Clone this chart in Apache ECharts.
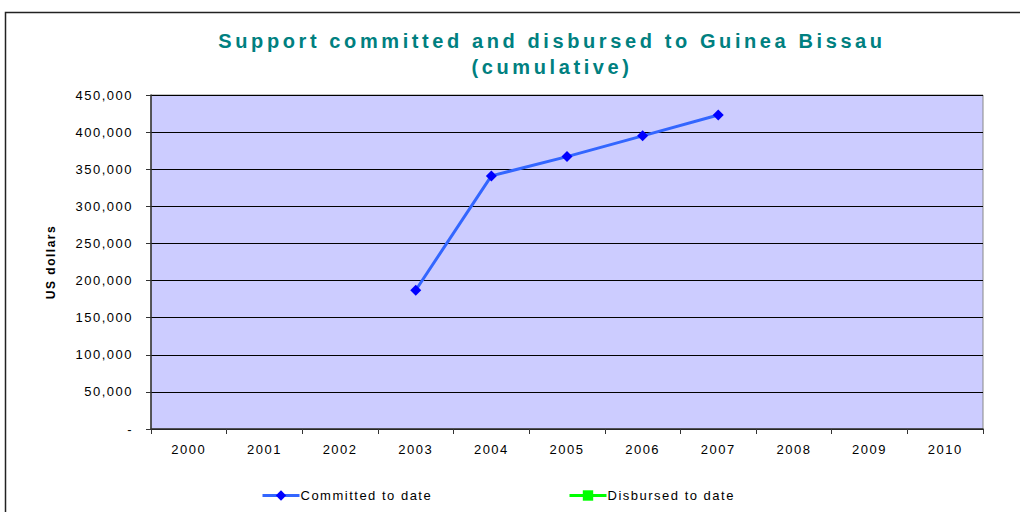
<!DOCTYPE html>
<html>
<head>
<meta charset="utf-8">
<script src="https://cdn.jsdelivr.net/npm/echarts@6/dist/echarts.min.js"></script>
<style>
html,body{margin:0;padding:0;background:#fff;}
#c{width:1020px;height:512px;}
#c svg text{letter-spacing:1.5px;}
#c svg text[style*="bold 12px"]{letter-spacing:0.6px;}
#c svg text[fill="#008080"]{letter-spacing:3.6px;}
</style>
</head>
<body>
<div id="c"></div>
<script>
const years = ['2000','2001','2002','2003','2004','2005','2006','2007','2008','2009','2010'];
const committed = [null, null, null, 187000, 341000, 367000, 395000, 423000, null, null, null];
const disbursed = [null, null, null, null, null, null, null, null, null, null, null];
const titleLines = ['Support committed and disbursed to Guinea Bissau', '(cumulative)'];

const font = '"Liberation Sans", Arial, sans-serif';
const titleFont = 'bold 20px "Liberation Sans", Arial, sans-serif';

const chart = echarts.init(document.getElementById('c'), null, { renderer: 'svg' });
chart.setOption({
  animation: false,
  backgroundColor: '#fff',
  graphic: [
    { type: 'rect', silent: true, z: -1,
      shape: { x: 5.5, y: 12.5, width: 1100, height: 600 },
      style: { fill: 'none', stroke: '#222', lineWidth: 1.5 } },
    { type: 'text', x: 552, y: 41, silent: true,
      style: { text: titleLines[0], font: titleFont, fill: '#008080', align: 'center', verticalAlign: 'middle' } },
    { type: 'text', x: 552, y: 67, silent: true,
      style: { text: titleLines[1], font: titleFont, fill: '#008080', align: 'center', verticalAlign: 'middle' } }
  ],
  legend: [
    { data: ['Committed to date'], left: 256, top: 484, itemWidth: 37, itemHeight: 13, itemGap: 0,
      lineStyle: { width: 3 },
      textStyle: { fontFamily: font, fontSize: 13, color: '#000', padding: [0,0,0,-4] } },
    { data: ['Disbursed to date'], left: 563, top: 484, itemWidth: 37, itemHeight: 13, itemGap: 0,
      lineStyle: { width: 3 },
      textStyle: { fontFamily: font, fontSize: 13, color: '#000', padding: [0,0,0,-4] } }
  ],
  grid: { left: 151, right: 37, top: 95, bottom: 83, show: true, backgroundColor: '#CCCCFF', borderColor: '#888', borderWidth: 1 },
  xAxis: {
    type: 'category', data: years, boundaryGap: true,
    axisLine: { lineStyle: { color: '#333', width: 1.5 } },
    axisTick: { show: true, length: 5, lineStyle: { color: '#333' } },
    axisLabel: { fontFamily: font, fontSize: 13, color: '#000', margin: 14 },
    splitLine: { show: false }
  },
  yAxis: {
    type: 'value', min: 0, max: 450000, interval: 50000,
    name: 'US dollars', nameLocation: 'middle', nameGap: 94, nameRotate: 90,
    nameTextStyle: { fontFamily: font, fontSize: 12, fontWeight: 'bold', color: '#000' },
    axisLine: { show: true, lineStyle: { color: '#333', width: 1.5 } },
    axisTick: { show: true, length: 5, lineStyle: { color: '#333' } },
    axisLabel: { fontFamily: font, fontSize: 13, color: '#000', margin: 18,
      formatter: v => v === 0 ? '-' : v.toLocaleString('en-US') },
    splitLine: { show: true, lineStyle: { color: '#000', width: 1 } }
  },
  series: [
    { name: 'Committed to date', type: 'line', data: committed, connectNulls: false,
      symbol: 'diamond', symbolSize: 11, showAllSymbol: true,
      lineStyle: { color: '#3366FF', width: 3 },
      itemStyle: { color: '#0000FF' } },
    { name: 'Disbursed to date', type: 'line', data: disbursed,
      symbol: 'rect', symbolSize: 9,
      lineStyle: { color: '#00FF00', width: 3 },
      itemStyle: { color: '#00FF00' } }
  ]
});
</script>
</body>
</html>
